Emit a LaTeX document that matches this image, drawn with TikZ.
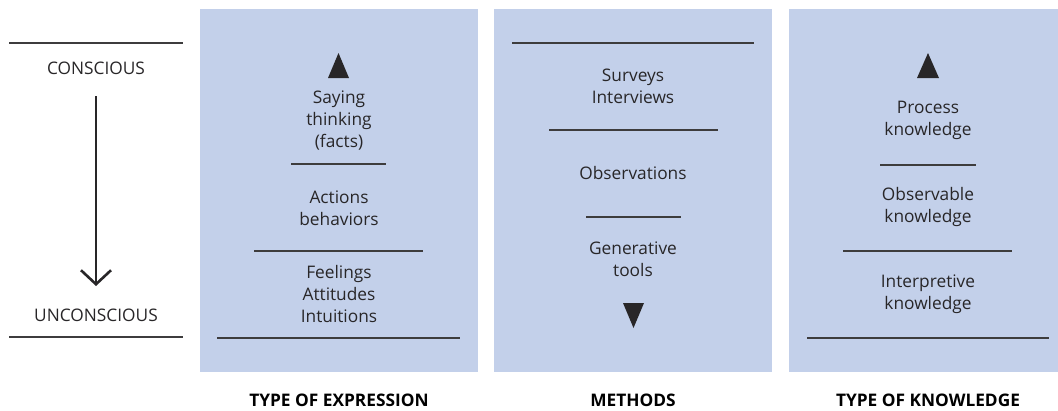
\documentclass[tikz,border=0pt]{standalone}
\usepackage{fontspec}
\setmainfont{Open Sans}
\usetikzlibrary{arrows.meta}
\definecolor{panelblue}{RGB}{195,208,234}
\definecolor{ink}{RGB}{40,38,40}
\tikzset{
  panel/.style={fill=panelblue, draw=none},
  sep/.style={draw=ink!90, line width=1.4pt},
  lbl/.style={text=ink, align=center, font=\fontsize{17.3}{22}\selectfont, inner sep=0pt},
  caption/.style={text=black, align=center, font=\bfseries\fontsize{17.3}{20}\selectfont, inner sep=0pt},
  tri/.style={fill=ink, draw=none},
}
\begin{document}
\begin{tikzpicture}[x=1pt,y=-1pt]
\useasboundingbox (0,0) rectangle (1058,410);
% panels
\fill[panel] (200,9) rectangle (478,372);
\fill[panel] (494,9) rectangle (772,372);
\fill[panel] (789,9) rectangle (1058,372);

% left scale
\draw[sep] (9,43) -- (183,43);
\draw[sep] (9,337) -- (183,337);
\node[lbl] (cons) at (96,68) {CONSCIOUS};
\node[lbl] (uncons) at (96,315) {UNCONSCIOUS};
\coordinate (arrA) at (96,96);
\coordinate (arrB) at (96,286);
\draw[ink, line width=2.6pt, -{Straight Barb[length=14pt,width=30pt,line width=2.6pt]}] (arrA) -- (arrB);

% panel 1
\fill[tri] (328,78) -- (349,78) -- (338.5,53) -- cycle;
\node[lbl] (say) at (339,121) {Saying\\thinking\\(facts)};
\draw[sep] (291,164) -- (386,164);
\node[lbl] (act) at (339,208) {Actions\\behaviors};
\draw[sep] (254,251) -- (423,251);
\node[lbl] (feel) at (339,294) {Feelings\\Attitudes\\Intuitions};
\draw[sep] (217,338) -- (460,338);
\node[caption] (c1) at (339,400) {TYPE OF EXPRESSION};

% panel 2
\draw[sep] (512,43) -- (754,43);
\node[lbl] (surv) at (633,86) {Surveys\\Interviews};
\draw[sep] (549,130) -- (718,130);
\node[lbl] (obs) at (633,173) {Observations};
\draw[sep] (586,217) -- (681,217);
\node[lbl] (gen) at (633,259) {Generative\\tools};
\fill[tri] (623,303) -- (644,303) -- (633.5,328) -- cycle;
\node[caption] (c2) at (633,400) {METHODS};

% panel 3
\fill[tri] (917,78) -- (939,78) -- (928,53) -- cycle;
\node[lbl] (proc) at (928,120) {Process\\knowledge};
\draw[sep] (880,165) -- (976,165);
\node[lbl] (obsk) at (928,207) {Observable\\knowledge};
\draw[sep] (843,251) -- (1012,251);
\node[lbl] (intk) at (928,294) {Interpretive\\knowledge};
\draw[sep] (807,338) -- (1049,338);
\node[caption] (c3) at (928,400) {TYPE OF KNOWLEDGE};
\end{tikzpicture}
\end{document}
